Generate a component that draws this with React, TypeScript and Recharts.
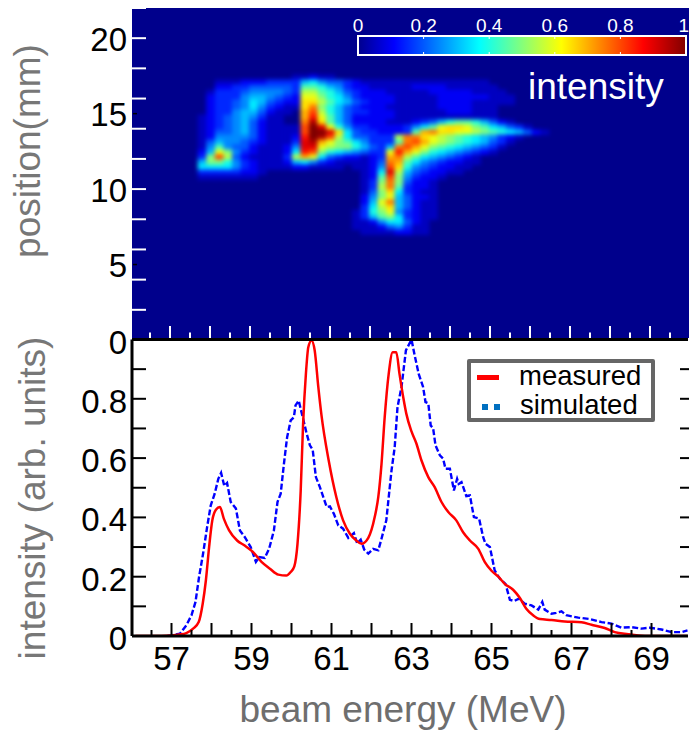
import {
  ComposedChart,
  Legend,
  Line,
  LineChart,
  ReferenceArea,
  Scatter,
  ScatterChart,
  XAxis,
  YAxis,
} from "recharts";

const WIDTH = 689;
const HEIGHT = 733;
const FONT = "'Liberation Sans', Arial, sans-serif";
const HEAT_ENERGY_DOMAIN = [56.0125, 69.9375];
const LINE_ENERGY_DOMAIN = [56.0125, 69.9125];

// x axis ticks, shared by both panels
const energyTicks = [
  56.5, 57, 57.5, 58, 58.5, 59, 59.5, 60, 60.5, 61, 61.5, 62, 62.5, 63, 63.5,
  64, 64.5, 65, 65.5, 66, 66.5, 67, 67.5, 68, 68.5, 69, 69.5,
];
const energyMajor = [57, 58, 59, 60, 61, 62, 63, 64, 65, 66, 67, 68, 69];
const energyLabels = [57, 59, 61, 63, 65, 67, 69];

const positionTicks = [2, 4, 5, 6, 8, 10, 12, 14, 15, 16, 18, 20, 22];
const positionLabels = [5, 10, 15, 20];

const intensityTicks = [0, 0.1, 0.2, 0.3, 0.4, 0.5, 0.6, 0.7, 0.8, 0.9, 1];
const intensityLabels = { 0: "0", 0.2: "0.2", 0.4: "0.4", 0.6: "0.6", 0.8: "0.8", 1: "0" };

const colorbarTicks = [0, 0.2, 0.4, 0.6, 0.8, 1];
const colorbarLabels = ["0", "0.2", "0.4", "0.6", "0.8", "1"];

const jetStops = [0, 0.11, 0.37, 0.62, 0.87, 1];
const jetColors = ["#00008c", "#0000ff", "#00ffff", "#ffff00", "#ff0000", "#800000"];

const measuredEnergy = [
  56.1, 56.5, 57, 57.2, 57.37, 57.54, 57.68, 57.78, 57.86, 57.94, 58.02, 58.11,
  58.21, 58.31, 58.44, 58.64, 58.83, 59.04, 59.25, 59.46, 59.67, 59.87, 59.98,
  60.07, 60.15, 60.23, 60.29, 60.36, 60.42, 60.5, 60.58, 60.67, 60.75, 60.93,
  61.12, 61.29, 61.46, 61.62, 61.75, 61.92, 62.08, 62.17, 62.25, 62.33, 62.43,
  62.53, 62.62, 62.7, 62.8, 62.87, 63, 63.12, 63.25, 63.42, 63.58, 63.75, 63.92,
  64.12, 64.29, 64.46, 64.67, 64.83, 65, 65.17, 65.33, 65.54, 65.71, 65.87,
  66.04, 66.21, 66.5, 66.83, 67.25, 67.5, 67.83, 68.08, 68.42, 68.67, 69, 69.9,
];
const measuredValue = [
  0, 0, 0.002, 0.005, 0.01, 0.025, 0.047, 0.109, 0.188, 0.3, 0.39, 0.426, 0.435,
  0.395, 0.356, 0.322, 0.305, 0.283, 0.25, 0.227, 0.207, 0.204, 0.216, 0.235,
  0.311, 0.49, 0.716, 0.884, 0.974, 0.997, 0.963, 0.84, 0.744, 0.592, 0.469,
  0.39, 0.345, 0.322, 0.311, 0.331, 0.401, 0.469, 0.58, 0.738, 0.884, 0.957,
  0.957, 0.884, 0.8, 0.75, 0.69, 0.65, 0.592, 0.536, 0.502, 0.452, 0.418,
  0.39, 0.35, 0.322, 0.294, 0.25, 0.22, 0.2, 0.176, 0.156, 0.128, 0.092, 0.07,
  0.057, 0.054, 0.049, 0.046, 0.038, 0.027, 0.013, 0.006, 0.002, 0, 0,
];

const simulatedEnergy = [
  56.9, 57, 57.21, 57.37, 57.5, 57.6, 57.69, 57.79, 57.89, 57.98, 58.08, 58.17,
  58.24, 58.32, 58.39, 58.48, 58.61, 58.71, 58.83, 58.98, 59.11, 59.19, 59.33,
  59.44, 59.56, 59.65, 59.73, 59.81, 59.89, 59.98, 60.06, 60.1, 60.18, 60.27,
  60.38, 60.46, 60.53, 60.61, 60.71, 60.88, 60.96, 61.06, 61.17, 61.29, 61.42,
  61.56, 61.64, 61.73, 61.82, 61.92, 62.04, 62.17, 62.25, 62.37, 62.5, 62.58,
  62.65, 62.75, 62.86, 63, 63.08, 63.18, 63.29, 63.35, 63.42, 63.48, 63.54,
  63.6, 63.71, 63.79, 63.85, 63.96, 64.06, 64.14, 64.18, 64.25, 64.37, 64.46,
  64.56, 64.69, 64.79, 64.85, 64.96, 65.08, 65.21, 65.35, 65.46, 65.57, 65.68,
  65.83, 66, 66.17, 66.27, 66.33, 66.5, 66.62, 66.75, 66.87, 67.17, 67.46,
  67.75, 68, 68.25, 68.5, 68.75, 68.96, 69.25, 69.5, 69.75, 69.9,
];
const simulatedValue = [
  0, 0.002, 0.008, 0.036, 0.07, 0.115, 0.2, 0.278, 0.367, 0.44, 0.48, 0.53,
  0.55, 0.506, 0.516, 0.452, 0.43, 0.356, 0.334, 0.3, 0.25, 0.266, 0.263, 0.294,
  0.356, 0.452, 0.48, 0.58, 0.67, 0.727, 0.738, 0.778, 0.794, 0.744, 0.682,
  0.643, 0.628, 0.536, 0.502, 0.435, 0.437, 0.412, 0.373, 0.362, 0.331, 0.347,
  0.313, 0.325, 0.291, 0.278, 0.294, 0.289, 0.328, 0.39, 0.558, 0.637, 0.772,
  0.84, 0.963, 1, 0.946, 0.884, 0.84, 0.789, 0.785, 0.71, 0.701, 0.643, 0.609,
  0.598, 0.564, 0.564, 0.491, 0.53, 0.513, 0.519, 0.472, 0.474, 0.401, 0.396,
  0.334, 0.311, 0.3, 0.221, 0.193, 0.176, 0.122, 0.118, 0.126, 0.109, 0.103,
  0.089, 0.115, 0.089, 0.075, 0.078, 0.083, 0.07, 0.062, 0.057, 0.047, 0.042,
  0.028, 0.03, 0.025, 0.028, 0.022, 0.013, 0.013, 0.019,
];

// heat map grid: one string per row, top to bottom, one base-36 digit per cell (value / 20)
const heatStartEnergy = 57.77;
const heatStepEnergy = 0.214;
const heatTopPosition = 17.41;
const heatStepPosition = 0.3313;
const heatRows = [
  "0000000000011211",
  "0011122233336754432111111111111111",
  "00223344444399865322111112222111111",
  "013334555543bb9864322211111222221111",
  "023335665432cca8753222211111222222111",
  "023345764322ddb9764322211111222211111",
  "023345753211dfa86432221111112222111",
  "023356642110egb86433222111111222111",
  "123456531100ehc96422222111111111111",
  "123456421100fjd9642222111234689986421",
  "123456421111gkic853322223579cddca976431",
  "124456421111gkkid743322239efddccba9876421",
  "125555421112hkjgb744333bffdcba98765321",
  "146554321113ijeca9753339fgecba9876431",
  "159544211125iicbaa86436fgeca98765431",
  "26ca53211127hga8765433checa87654321",
  "3agb4211113bec74322123efb97654321",
  "6aa8532111267532111124fe975432211",
  "7777532111122111101125gd85432211",
  "3333322100000000000127ib6432211",
  "1111111000000000000129ga53221",
  "000000000000000000013afa4221",
  "000000000000000000013bf93221",
  "000000000000000000014ad73211",
  "000000000000000000025ac64221",
  "000000000000000000026cf64211",
  "000000000000000000037bd64211",
  "000000000000000000138ac53211",
  "0000000000000000001369a73211",
  "000000000000000000112577421",
  "000000000000000000111245311",
  "000000000000000000011112211",
];

const heatCells = heatRows.flatMap((row, r) =>
  row.split("").flatMap((ch, c) => {
    const v = parseInt(ch, 36) / 20;
    if (v === 0) return [];
    return [
      {
        energy: heatStartEnergy + c * heatStepEnergy,
        position: heatTopPosition - r * heatStepPosition,
        v,
      },
    ];
  })
);

const measuredData = measuredEnergy.map((energy, i) => ({ energy, value: measuredValue[i] }));
const simulatedData = simulatedEnergy.map((energy, i) => ({ energy, value: simulatedValue[i] }));
const colorbarData = colorbarTicks.map((level) => ({ level }));

function mix(a: string, b: string, t: number) {
  const ca = [1, 3, 5].map((i) => parseInt(a.slice(i, i + 2), 16));
  const cb = [1, 3, 5].map((i) => parseInt(b.slice(i, i + 2), 16));
  return `rgb(${ca.map((x, i) => Math.round(x + (cb[i] - x) * t)).join(",")})`;
}

function jet(v: number) {
  let i = 0;
  while (i < jetStops.length - 2 && v > jetStops[i + 1]) i++;
  return mix(jetColors[i], jetColors[i + 1], (v - jetStops[i]) / (jetStops[i + 1] - jetStops[i]));
}

function HeatCell({ cx, cy, payload }: any) {
  return <rect x={cx - 4.6} y={cy - 2.8} width={9.2} height={5.6} fill={jet(payload.v)} />;
}

function HeatXTick({ x, y, payload }: any) {
  const len = energyMajor.includes(payload.value) ? 14 : 7.5;
  return <line x1={x - 1.5} x2={x - 1.5} y1={y - 2} y2={y - len} stroke="#fff" strokeWidth={2} />;
}

function HeatYTick({ x, y, payload }: any) {
  const even = payload.value % 2 === 0;
  return (
    <g>
      {even && <line x1={x} x2={x + 14} y1={y} y2={y} stroke="#fff" strokeWidth={2} />}
      {payload.value % 5 === 0 && !even && (
        <line x1={x + 1} x2={x + 5} y1={y} y2={y} stroke="#000" strokeWidth={1.5} />
      )}
      {positionLabels.includes(payload.value) && (
        <text x={x - 5} y={y + 12.5} textAnchor="end" fontSize={33} fontFamily={FONT} fill="#000">
          {payload.value}
        </text>
      )}
    </g>
  );
}

function EnergyBottomTick({ x, y, payload }: any) {
  const len = energyMajor.includes(payload.value) ? 13 : 6;
  return (
    <g>
      <line x1={x} x2={x} y1={y} y2={y - len} stroke="#000" strokeWidth={2} />
      {energyLabels.includes(payload.value) && (
        <text x={x} y={y + 34} textAnchor="middle" fontSize={33} fontFamily={FONT} fill="#000">
          {payload.value}
        </text>
      )}
    </g>
  );
}

function EnergyTopTick({ x, y, payload }: any) {
  const len = energyMajor.includes(payload.value) ? 12 : 6;
  return <line x1={x} x2={x} y1={y} y2={y + len} stroke="#000" strokeWidth={2} />;
}

function IntensityLeftTick({ x, y, payload }: any) {
  const label = (intensityLabels as any)[payload.value];
  return (
    <g>
      {payload.value > 0 && payload.value < 1 && (
        <line x1={x} x2={x + 14} y1={y} y2={y} stroke="#000" strokeWidth={2} />
      )}
      {label && (
        <text x={x - 5} y={y + 14} textAnchor="end" fontSize={33} fontFamily={FONT} fill="#000">
          {label}
        </text>
      )}
    </g>
  );
}

function IntensityRightTick({ x, y, payload }: any) {
  if (payload.value === 0 || payload.value === 1) return <g />;
  return <line x1={x + 1} x2={x - 8} y1={y} y2={y} stroke="#000" strokeWidth={2} />;
}

function ColorbarTick({ x, y, index }: any) {
  const last = index === colorbarLabels.length - 1;
  return (
    <g>
      <line x1={x} x2={x} y1={y} y2={y + 3} stroke="#fff" strokeWidth={1} />
      <line x1={x} x2={x} y1={y + 16} y2={y + 19} stroke="#fff" strokeWidth={1} />
      <text
        x={last ? x + 3 : x}
        y={y - 4}
        textAnchor={last ? "end" : "middle"}
        fontSize={19}
        fontFamily={FONT}
        fill="#fff"
      >
        {colorbarLabels[index]}
      </text>
    </g>
  );
}

function LegendBox() {
  const textStyle = {
    position: "absolute",
    fontFamily: FONT,
    fontSize: 27.5,
    lineHeight: "30px",
    color: "#000",
    whiteSpace: "nowrap",
  } as const;
  return (
    <div
      style={{
        position: "relative",
        width: 188,
        height: 63,
        boxSizing: "border-box",
        border: "4px solid #666",
        borderRadius: 2,
        background: "#fff",
      }}
    >
      <div style={{ position: "absolute", left: 6, top: 12, width: 22, height: 5, background: "#ff0000" }} />
      <div style={{ position: "absolute", left: 11, top: 41, width: 6, height: 6, background: "#0070c0" }} />
      <div style={{ position: "absolute", left: 23, top: 41, width: 6, height: 6, background: "#0070c0" }} />
      <span style={{ ...textStyle, left: 48, top: -2 }}>measured</span>
      <span style={{ ...textStyle, left: 49, top: 27 }}>simulated</span>
    </div>
  );
}

const layer = { position: "absolute", left: 0, top: 0 } as const;

export default function App() {
  return (
    <div style={{ position: "absolute", left: 0, top: 0, width: WIDTH, height: HEIGHT, overflow: "hidden", background: "#fff" }}>
      <style>{`.heat .recharts-scatter { filter: blur(1.9px); }`}</style>
      <div style={{ position: "absolute", left: 132, top: 8, width: 557, height: 330, background: "#00008c" }} />

      <div className="heat" style={layer}>
        <ScatterChart width={WIDTH} height={HEIGHT} margin={{ top: 8, left: 131, right: 0, bottom: HEIGHT - 341 }}>
          <XAxis
            type="number"
            dataKey="energy"
            domain={HEAT_ENERGY_DOMAIN}
            ticks={energyTicks}
            interval={0}
            height={1}
            axisLine={false}
            tickLine={false}
            tickSize={0}
            tickMargin={0}
            tick={HeatXTick}
            allowDataOverflow
          />
          <YAxis
            type="number"
            dataKey="position"
            domain={[0, 22]}
            ticks={positionTicks}
            interval={0}
            width={1}
            axisLine={false}
            tickLine={false}
            tickSize={0}
            tickMargin={0}
            tick={HeatYTick}
            allowDataOverflow
          />
          <Scatter data={heatCells} shape={HeatCell} isAnimationActive={false} />
          <text x={528} y={99} fontSize={37} fontFamily={FONT} fill="#fff">
            intensity
          </text>
          <text
            transform="translate(40,151) rotate(-90)"
            textAnchor="middle"
            fontSize={37}
            fontFamily={FONT}
            fill="#777"
          >
            position(mm)
          </text>
        </ScatterChart>
      </div>

      <div style={layer}>
        <ComposedChart
          width={WIDTH}
          height={HEIGHT}
          data={colorbarData}
          margin={{ top: 35, left: 358, right: WIDTH - 686, bottom: HEIGHT - 55 }}
        >
          <defs>
            <linearGradient id="jetBar" x1="0" x2="1" y1="0" y2="0">
              {jetStops.map((s, i) => (
                <stop key={s} offset={s} stopColor={jetColors[i]} />
              ))}
            </linearGradient>
          </defs>
          <XAxis
            type="number"
            dataKey="level"
            orientation="top"
            domain={[0, 1]}
            ticks={colorbarTicks}
            interval={0}
            height={1}
            axisLine={false}
            tickLine={false}
            tickSize={0}
            tickMargin={0}
            tick={ColorbarTick}
          />
          <YAxis type="number" domain={[0, 1]} hide />
          <ReferenceArea x1={0} x2={1} y1={0} y2={1} fill="url(#jetBar)" fillOpacity={1} stroke="#fff" strokeWidth={2} />
          <Line dataKey="level" stroke="none" dot={false} isAnimationActive={false} />
        </ComposedChart>
      </div>

      <div style={layer}>
        <LineChart width={WIDTH} height={HEIGHT} margin={{ top: 338.5, left: 131, right: 0, bottom: HEIGHT - 637 }}>
          <XAxis
            xAxisId="bottom"
            type="number"
            dataKey="energy"
            domain={LINE_ENERGY_DOMAIN}
            ticks={energyTicks}
            interval={0}
            height={1}
            stroke="#000"
            strokeWidth={3}
            tickLine={false}
            tickSize={0}
            tickMargin={0}
            tick={EnergyBottomTick}
            allowDataOverflow
          />
          <XAxis
            xAxisId="top"
            orientation="top"
            type="number"
            domain={LINE_ENERGY_DOMAIN}
            ticks={energyTicks}
            interval={0}
            height={1}
            stroke="#000"
            strokeWidth={3}
            tickLine={false}
            tickSize={0}
            tickMargin={0}
            tick={EnergyTopTick}
            allowDataOverflow
          />
          <YAxis
            yAxisId="left"
            type="number"
            domain={[0, 1]}
            ticks={intensityTicks}
            interval={0}
            width={1}
            stroke="#000"
            strokeWidth={3}
            tickLine={false}
            tickSize={0}
            tickMargin={0}
            tick={IntensityLeftTick}
            allowDataOverflow
          />
          <YAxis
            yAxisId="right"
            orientation="right"
            type="number"
            domain={[0, 1]}
            ticks={intensityTicks}
            interval={0}
            width={1}
            axisLine={false}
            tickLine={false}
            tickSize={0}
            tickMargin={0}
            tick={IntensityRightTick}
            allowDataOverflow
          />
          <Line
            xAxisId="bottom"
            yAxisId="left"
            data={simulatedData}
            dataKey="value"
            name="simulated"
            stroke="#0000ff"
            strokeWidth={2.4}
            strokeDasharray="6 2.5"
            dot={false}
            type="linear"
            isAnimationActive={false}
          />
          <Line
            xAxisId="bottom"
            yAxisId="left"
            data={measuredData}
            dataKey="value"
            name="measured"
            stroke="#ff0000"
            strokeWidth={2.5}
            dot={false}
            type="monotone"
            isAnimationActive={false}
          />
          <Legend
            layout="vertical"
            align="center"
            verticalAlign="middle"
            content={LegendBox}
            wrapperStyle={{ left: 467, top: 359, width: 188, height: 63 }}
          />
          <text x={403} y={722} textAnchor="middle" fontSize={37} fontFamily={FONT} fill="#6e6e6e">
            beam energy (MeV)
          </text>
          <text
            transform="translate(45,498) rotate(-90)"
            textAnchor="middle"
            fontSize={37}
            fontFamily={FONT}
            fill="#777"
          >
            intensity (arb. units)
          </text>
        </LineChart>
      </div>
    </div>
  );
}
